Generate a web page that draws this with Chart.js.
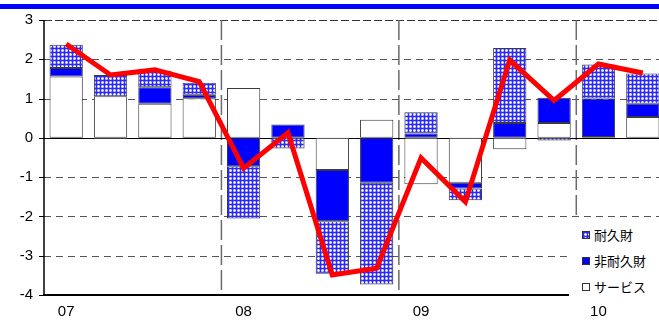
<!DOCTYPE html>
<html>
<head>
<meta charset="utf-8">
<script src="https://cdn.jsdelivr.net/npm/chart.js@4.4.1/dist/chart.umd.min.js"></script>
<style>
  html, body { margin: 0; padding: 0; background: #fff; overflow: hidden; width: 659px; height: 322px; }
  #wrap { position: relative; width: 680px; height: 322px; }
  #band { position: absolute; left: 0; top: 4px; width: 680px; height: 5px; background: #0000ff; }
  #legend { position: absolute; left: 569px; top: 219px; width: 100px; height: 81px; background: #fff;
            font-family: "Noto Sans CJK JP", "Noto Sans", sans-serif; font-size: 13px; color: #000; }
  .item { position: absolute; left: 13px; height: 18px; line-height: 18px; white-space: nowrap; }
  .sw { display: inline-block; width: 8px; height: 8px; border: 1px solid #333; vertical-align: middle;
        margin-right: 4px; position: relative; top: -1px; box-sizing: border-box; }
</style>
</head>
<body>
<div id="wrap">
  <canvas id="c" width="680" height="322"></canvas>
  <div id="band"></div>
  <div id="legend"></div>
</div>
<script>
// Quarterly contributions to consumption growth (percentage points)
const quarters = ['07Q1','07Q2','07Q3','07Q4','08Q1','08Q2','08Q3','08Q4','09Q1','09Q2','09Q3','09Q4','10Q1','10Q2'];
const yearLabels = ['07','','','','08','','','','09','','','','10',''];

const services    = [1.56, 1.06, 0.87, 1.01, 1.27, 0.00, -0.82, 0.46, -1.18, -1.14, -0.29, 0.38, 0.02, 0.53];
const nondurables = [0.22, -0.03, 0.42, 0.09, -0.72, 0.34, -1.30, -1.14, 0.11, -0.15, 0.38, 0.64, 0.98, 0.34];
const durables    = [0.59, 0.54, 0.42, 0.30, -1.33, -0.27, -1.34, -2.59, 0.54, -0.30, 1.91, -0.07, 0.87, 0.77];
const total       = [2.39, 1.60, 1.73, 1.43, -0.77, 0.13, -3.49, -3.32, -0.51, -1.63, 1.98, 0.95, 1.88, 1.65];

const seriesNames = ['耐久財', '非耐久財', 'サービス'];
const yTicks = [3, 2, 1, 0, -1, -2, -3, -4];

// dotted cross-hatch fill used for durable goods
function makePattern() {
  const t = document.createElement('canvas');
  t.width = 4; t.height = 4;
  const g = t.getContext('2d');
  g.fillStyle = '#2a2aff'; g.fillRect(0, 0, 4, 4);
  g.fillStyle = '#8585ff';
  g.fillRect(1, 1, 3, 3);
  g.fillStyle = '#d4d4ff';
  g.fillRect(2, 1, 1, 1); g.fillRect(1, 2, 1, 1); g.fillRect(3, 2, 1, 1); g.fillRect(2, 3, 1, 1);
  g.fillStyle = '#ffffff'; g.fillRect(2, 2, 1, 1);
  return { tile: t, pattern: g.createPattern(t, 'repeat') };
}
const pat = makePattern();

const ctx = document.getElementById('c').getContext('2d');

// grid, year dividers and axis lines
const framePlugin = {
  id: 'frame',
  beforeDatasetsDraw(chart) {
    const { ctx, chartArea: a, scales: { x, y } } = chart;
    ctx.save();
    ctx.lineWidth = 1;
    for (const v of yTicks) {
      if (v === 0 || v === -4) continue;
      const py = Math.round(y.getPixelForValue(v)) + 0.5;
      ctx.strokeStyle = v === 3 ? '#333' : '#555';
      ctx.setLineDash(v === 3 ? [8, 3] : [7, 5]);
      ctx.beginPath(); ctx.moveTo(a.left, py); ctx.lineTo(a.right, py); ctx.stroke();
    }
    ctx.strokeStyle = '#6a6a6a';
    ctx.lineWidth = 1.5;
    ctx.setLineDash([20, 5]);
    for (const i of [3, 7, 11]) {
      const px = (x.getPixelForValue(i) + x.getPixelForValue(i + 1)) / 2;
      ctx.beginPath(); ctx.moveTo(px, a.top); ctx.lineTo(px, a.bottom); ctx.stroke();
    }
    ctx.setLineDash([]);
    ctx.strokeStyle = '#000';
    ctx.lineWidth = 1;
    const z = Math.round(y.getPixelForValue(0)) + 0.5;
    ctx.beginPath(); ctx.moveTo(a.left, z); ctx.lineTo(a.right, z); ctx.stroke();
    ctx.restore();
  },
  afterDatasetsDraw(chart) {
    const { ctx, chartArea: a, scales: { y } } = chart;
    ctx.save();
    ctx.strokeStyle = '#000';
    ctx.lineWidth = 1.5;
    ctx.beginPath(); ctx.moveTo(a.left, a.top); ctx.lineTo(a.left, a.bottom); ctx.stroke();
    ctx.lineWidth = 2;
    ctx.beginPath(); ctx.moveTo(a.left - 1, a.bottom); ctx.lineTo(a.right, a.bottom); ctx.stroke();
    ctx.lineWidth = 1;
    for (const v of yTicks) {
      const py = Math.round(y.getPixelForValue(v)) + 0.5;
      ctx.beginPath(); ctx.moveTo(a.left - 5, py); ctx.lineTo(a.left, py); ctx.stroke();
    }
    ctx.restore();
  }
};

const barBase = { borderColor: '#3a3a3a', borderWidth: 1, borderSkipped: false, stack: 'parts', order: 1,
                  barPercentage: 0.75, categoryPercentage: 1.0 };

new Chart(ctx, {
  type: 'bar',
  data: {
    labels: quarters,
    datasets: [
      { ...barBase, label: seriesNames[2], data: services, backgroundColor: '#ffffff' },
      { ...barBase, label: seriesNames[1], data: nondurables, backgroundColor: '#0000ff' },
      { ...barBase, label: seriesNames[0], data: durables, backgroundColor: pat.pattern },
      { type: 'line', label: 'total', data: total, stack: 'total', order: 0,
        borderColor: '#ff0000', borderWidth: 5, pointRadius: 0, tension: 0, fill: false,
        borderJoinStyle: 'miter', borderCapStyle: 'butt' }
    ]
  },
  options: {
    responsive: false,
    animation: false,
    devicePixelRatio: 1,
    layout: { padding: { top: 19, right: 15, left: 0, bottom: 0 } },
    plugins: { legend: { display: false }, tooltip: { enabled: false } },
    scales: {
      x: {
        stacked: true,
        grid: { display: false, drawTicks: false },
        border: { display: false },
        ticks: {
          autoSkip: false, maxRotation: 0, padding: 8, color: '#000',
          font: { family: 'Liberation Sans, Arial, sans-serif', size: 15 },
          callback: (v, i) => yearLabels[i]
        },
        afterFit(s) { s.height = 27; }
      },
      y: {
        stacked: true,
        min: -4, max: 3,
        grid: { display: false, drawTicks: false },
        border: { display: false },
        ticks: { stepSize: 1, padding: 11, color: '#000',
                 font: { family: 'Liberation Sans, Arial, sans-serif', size: 15 } },
        afterFit(s) { s.width = 44; }
      }
    }
  },
  plugins: [framePlugin]
});

// legend box
const legend = document.getElementById('legend');
const swatches = [
  { name: seriesNames[0], bg: 'url(' + pat.tile.toDataURL() + ')', top: 7 },
  { name: seriesNames[1], bg: '#0000ff', top: 33 },
  { name: seriesNames[2], bg: '#ffffff', top: 59 }
];
for (const s of swatches) {
  const d = document.createElement('div');
  d.className = 'item';
  d.style.top = s.top + 'px';
  const sw = document.createElement('span');
  sw.className = 'sw';
  sw.style.background = s.bg;
  d.appendChild(sw);
  d.appendChild(document.createTextNode(s.name));
  legend.appendChild(d);
}
</script>
</body>
</html>
